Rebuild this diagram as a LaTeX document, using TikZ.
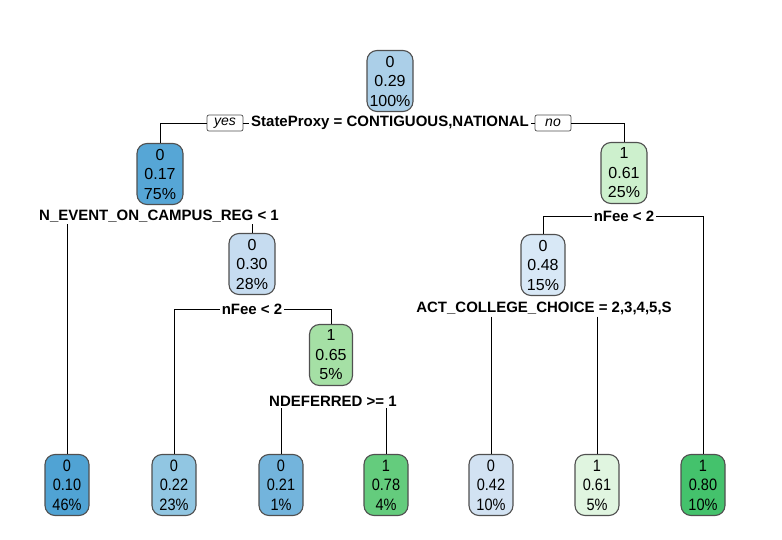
\documentclass[tikz,border=0pt]{standalone}
\usepackage{fontspec}
\setmainfont{Liberation Sans}
\newfontfamily\leaffont[FakeStretch=0.88]{Liberation Sans}
\definecolor{cA}{RGB}{171,207,232}
\definecolor{cB}{RGB}{86,166,214}
\definecolor{cC}{RGB}{198,220,240}
\definecolor{cD}{RGB}{216,232,246}
\definecolor{cE}{RGB}{205,240,205}
\definecolor{cF}{RGB}{165,224,165}
\definecolor{lA}{RGB}{80,163,212}
\definecolor{lB}{RGB}{145,198,226}
\definecolor{lC}{RGB}{115,180,220}
\definecolor{lD}{RGB}{100,204,125}
\definecolor{lE}{RGB}{210,226,242}
\definecolor{lF}{RGB}{224,245,224}
\definecolor{lG}{RGB}{68,194,108}
\definecolor{bord}{RGB}{80,80,80}
\tikzset{
  tnode/.style={draw=bord, line width=1.1pt, rounded corners=10pt, minimum width=46pt, minimum height=61pt,
    inner sep=1pt, align=center, font=\fontsize{16}{19.5}\selectfont},
  leaf/.style={tnode, minimum width=44pt, font=\leaffont\fontsize{16.5}{19.5}\selectfont},
  split/.style={inner sep=2pt, font=\bfseries\fontsize{15}{18}\selectfont},
  yn/.style={draw=bord, line width=0.7pt, rounded corners=2pt, inner xsep=3pt, inner ysep=2.5pt,
    minimum width=36pt, minimum height=16pt, font=\itshape\fontsize{14}{16}\selectfont},
  conn/.style={line width=0.8pt, black}
}
\begin{document}
\begin{tikzpicture}[x=1pt,y=-1pt]
\useasboundingbox (0,0) rectangle (782,540);
% internal nodes
\node[tnode, fill=cA] (n1) at (390,81) {0\\0.29\\100\%};
\node[split] (s1) at (390,123) {StateProxy = CONTIGUOUS,NATIONAL};
\node[yn] (yes) at (225,123) {yes};
\node[yn] (no) at (553,123) {no};
\node[tnode, fill=cB] (n2) at (160,174) {0\\0.17\\75\%};
\node[split] (s2) at (159,216) {N\_EVENT\_ON\_CAMPUS\_REG < 1};
\node[tnode, fill=cE] (n3) at (624,173) {1\\0.61\\25\%};
\node[split] (s3) at (624,216) {nFee < 2};
\node[tnode, fill=cC] (n4) at (252,264) {0\\0.30\\28\%};
\node[split] (s4) at (252,309) {nFee < 2};
\node[tnode, fill=cF, minimum width=43pt] (n5) at (331,355) {1\\0.65\\5\%};
\node[split] (s5) at (333,401) {NDEFERRED >= 1};
\node[tnode, fill=cD, minimum width=44pt] (n6) at (543,265) {0\\0.48\\15\%};
\node[split] (s6) at (544,308) {ACT\_COLLEGE\_CHOICE = 2,3,4,5,S};
% leaves
\node[leaf, fill=lA] (l1) at (67,485) {0\\0.10\\46\%};
\node[leaf, fill=lB] (l2) at (174,485) {0\\0.22\\23\%};
\node[leaf, fill=lC] (l3) at (281,485) {0\\0.21\\1\%};
\node[leaf, fill=lD] (l4) at (386,485) {1\\0.78\\4\%};
\node[leaf, fill=lE] (l5) at (491,485) {0\\0.42\\10\%};
\node[leaf, fill=lF] (l6) at (597,485) {1\\0.61\\5\%};
\node[leaf, fill=lG] (l7) at (703,485) {1\\0.80\\10\%};
% connectors
\draw[conn] (yes.west) -| (n2.north);
\draw[conn] (yes.east) -- (s1.west);
\draw[conn] (s1.east) -- (no.west);
\draw[conn] (no.east) -| (n3.north);
\draw[conn] (s2.south -| l1.north) -- (l1.north);
\draw[conn] (s2.south -| n4.north) -- (n4.north);
\draw[conn] (s4.west) -| (l2.north);
\draw[conn] (s4.east) -| (n5.north);
\draw[conn] (s5.south -| l3.north) -- (l3.north);
\draw[conn] (s5.south -| l4.north) -- (l4.north);
\draw[conn] (s3.west) -| (n6.north);
\draw[conn] (s3.east) -| (l7.north);
\draw[conn] (s6.south -| l5.north) -- (l5.north);
\draw[conn] (s6.south -| l6.north) -- (l6.north);
\end{tikzpicture}
\end{document}
